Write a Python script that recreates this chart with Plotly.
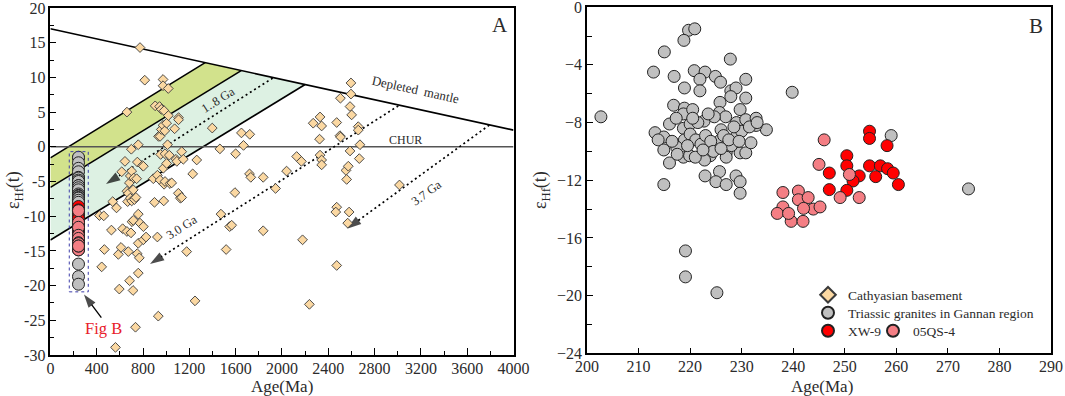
import math
import plotly.graph_objects as go

# ---------------- Panel A : Cathyasian basement zircons ----------------
CATH_AGE = [423, 461, 443, 466, 527, 538, 571, 587, 562, 595, 610, 616, 624,
            644, 661, 661, 661, 667, 673, 673, 682, 684, 690, 690, 696, 699, 702, 702,
            705, 714, 716, 716, 720, 726, 735, 739, 745, 750, 751, 759, 759, 759, 759,
            768, 774, 774, 795, 803, 803, 803, 815, 826,
            889, 899, 905, 924, 924, 932, 934, 943, 947, 947, 952, 958, 958, 973, 973,
            973, 975, 979, 982, 982, 988, 990, 990, 1004, 1004, 1012, 1018, 1019, 1027,
            1033, 1048, 1073, 1085, 1092, 1105, 1107, 1107, 1122, 1134, 1134, 1148,
            1177, 1229, 1249, 1264, 1398, 1464, 1473, 1518, 1548, 1566, 1594, 1600,
            1650, 1668, 1722, 1720, 1731, 1838, 1838, 1945,
            2040, 2127, 2168, 2178, 2237, 2270, 2329, 2343, 2325, 2329, 2343, 2343,
            2473, 2473, 2465, 2473, 2505, 2501, 2506, 2553, 2559, 2573, 2580, 2568,
            2588, 2588, 2596, 2596, 2602, 2659, 2659, 2668, 2674, 3015]
CATH_EPS = [-9.9, -9.95, -17.3, -14.8, -12.0, -7.9, -8.8, -15.5, -28.9, -20.5, -14.5, -3.6, -11.8,
            -2.1, 5.0, -12.2, -6.4, -7.9, -15.1, -6.7, -5.2, -19.3, -7.4, -4.2, -12.4, -0.35, -3.5, -7.8,
            -10.8, -20.7, -6.2, -10.6, -4.5, -7.6, -26.0, -7.3, -4.6, -15.4, -2.2, 0.3, -9.7, -13.9, -18.2,
            -16.0, 14.3, -11.0, -2.7, -2.8, -11.5, -13.4, 9.6, -13.0,
            -4.6, -8.0, 5.9, -4.1, -13.0, -24.4, 1.5, 5.8, 1.5, -4.8, -1.1, 5.4, 2.5, 9.7, 8.8,
            3.1, -3.1, -7.8, 5.2, -5.4, 2.3, -1.0, -5.0, 3.4, -2.4, 0.3, 8.4, 4.5, -1.2,
            -5.3, -5.2, 2.6, -1.8, -2.1, -6.7, 4.2, 3.9, -7.4, -0.7, -7.3, -1.8,
            -15.1, -3.9, -22.2, -1.9, 2.7, -0.3, -9.7, -14.8, -11.5, -11.3, -6.6, -1.0,
            2.0, 0.2, 1.8, -3.9, -4.4, -4.4, -12.1, -6.0,
            -3.5, -1.4, -2.1, -13.4, -22.7, 3.4, 4.3, 3.0, 1.1, -1.2, -1.9, -2.6,
            3.5, -8.7, -9.4, -17.1, 7.0, 1.6, 1.4, -3.4, -4.7, -2.8, -9.4, -11.0,
            5.8, -0.6, 9.2, 7.6, 4.6, 2.9, 2.4, -1.7, 0.3, -5.5]

# ---------------- Panel B : Triassic granites ----------------
GRAY_AGE = [202.7, 219.7, 220.9, 218.8, 215.0, 227.8,
            212.9, 216.9, 220.8, 222.9, 221.9, 224.9, 225.9, 230.8,
            218.9, 221.9, 227.9, 228.9, 230.8, 239.8, 225.8, 227.9,
            216.8, 218.9, 218.7, 220.5, 229.7, 225.7, 226.9, 229.0, 230.8, 232.8, 234.8, 232.8,
            216.0, 217.3, 218.7, 220.0, 222.7, 224.7,
            213.2, 214.9, 213.8, 214.9, 216.0, 214.9,
            218.9, 220.0, 217.4, 218.7, 219.9, 221.1, 222.1, 223.9, 222.8, 225.9, 226.0, 227.0,
            227.0, 228.9, 229.7, 230.8, 231.8,
            222.9, 225.7, 225.0, 227.0, 228.9, 229.7, 229.7,
            221.5, 223.0, 224.0, 226.5, 228.0, 230.0, 231.5, 219.5, 221.0, 224.5, 227.5,
            229.5, 223.5, 228.5, 216.5, 220.5, 233.0, 217.5, 222.5, 226.0,
            219.1, 219.1, 225.2, 259.0, 274.0]
GRAY_EPS = [-7.6, -1.6, -1.5, -2.3, -3.1, -3.6,
            -4.5, -4.8, -4.4, -4.5, -5.0, -4.8, -5.2, -5.0,
            -5.6, -5.8, -5.8, -5.6, -6.3, -5.9, -6.6, -6.2,
            -6.8, -7.0, -7.4, -7.1, -7.1, -7.3, -7.6, -8.0, -7.8, -7.7, -8.5, -8.2,
            -8.1, -7.7, -8.4, -8.1, -7.9, -7.6,
            -8.7, -9.0, -9.2, -9.9, -10.8, -12.3,
            -9.2, -8.8, -9.7, -10.4, -10.3, -9.2, -9.5, -10.3, -10.6, -9.2, -8.5, -10.1,
            -10.4, -9.0, -10.1, -10.1, -9.4,
            -11.7, -11.4, -12.1, -12.3, -11.7, -12.1, -12.9,
            -8.0, -8.9, -9.3, -8.9, -9.6, -8.6, -8.3, -9.6, -10.4, -10.0, -9.2,
            -9.3, -7.4, -8.3, -9.3, -7.7, -8.0, -10.2, -9.9, -9.8,
            -16.9, -18.7, -19.8, -8.9, -12.6]

XW9_AGE = [254.8, 254.8, 258.2, 250.4, 250.4, 247.0, 254.8, 256.9, 258.3, 259.4,
           260.4, 256.0, 252.8, 251.6, 247.0, 250.4]
XW9_EPS = [-8.6, -9.1, -9.6, -10.3, -11.0, -11.5, -11.0, -11.0, -11.2, -11.5,
           -12.3, -11.75, -11.7, -12.05, -12.65, -12.7]

QS4_AGE = [246.0, 245.0, 250.9, 249.1, 252.8, 238.0, 241.0, 241.0, 242.9, 238.0,
           243.9, 245.2, 242.0, 239.6, 241.9, 236.9, 239.1]
QS4_EPS = [-9.2, -10.9, -11.6, -13.2, -13.2, -12.85, -12.75, -13.35, -13.2, -13.85,
           -14.0, -13.85, -13.95, -14.85, -14.85, -14.3, -14.3]

# ---------------- Reference evolution lines (panel A) ----------------
DM_AGE, DM_EPS = [0, 4000], [17.0, 2.4]
CHUR_AGE, CHUR_EPS = [0, 4000], [0, 0]
L1_AGE, L1_EPS = [0, 1337], [-1.6, 12.12]
L2_AGE, L2_EPS = [0, 1648], [-5.85, 10.985]
L3_AGE, L3_EPS = [0, 2200], [-13.43, 8.97]
ARR18_AGE, ARR18_EPS = [1920, 480], [9.9, -5.37]
ARR30_AGE, ARR30_EPS = [3005, 860], [5.9, -16.9]
ARR37_AGE, ARR37_EPS = [3791, 2562], [3.13, -11.8]
FIGB_AGE, FIGB_EPS = [440, 290], [-24.6, -21.3]

A_XTICKS = list(range(0, 4001, 400))
A_YTICKS = list(range(-30, 21, 5))
B_XTICKS = list(range(200, 291, 10))
B_YTICKS = list(range(-24, 1, 4))

W, H = 1065, 396
AX_L, AX_R, AX_T, AX_B = 50.4, 513.5, 8.0, 355.0
BX_L, BX_R, BX_T, BX_B = 587.0, 1051.0, 7.2, 353.3

FONT = "Liberation Serif"
TXT = "#2b2b2b"

# in panel A the granite data collapse to one column near their mean age
ALL_B_AGE = GRAY_AGE + XW9_AGE + QS4_AGE
COLUMN_AGE = sum(ALL_B_AGE) / len(ALL_B_AGE) + 12


def ang(xs, ys):
    """text angle (deg) following a line in panel A pixel space"""
    px = (AX_R - AX_L) / 4000.0
    py = (AX_B - AX_T) / 50.0
    dx = (xs[1] - xs[0]) * px
    dy = (ys[1] - ys[0]) * py
    if dx < 0:
        dx, dy = -dx, -dy
    return -math.degrees(math.atan2(dy, dx))


fig = go.Figure()

# bands
fig.add_trace(go.Scatter(x=L1_AGE + L2_AGE[::-1], y=L1_EPS + L2_EPS[::-1], fill="toself",
                         fillcolor="#D2E28C", line=dict(width=0), mode="lines",
                         showlegend=False, hoverinfo="skip", xaxis="x", yaxis="y"))
fig.add_trace(go.Scatter(x=L2_AGE + L3_AGE[::-1], y=L2_EPS + L3_EPS[::-1], fill="toself",
                         fillcolor="#DDF1E3", line=dict(width=0), mode="lines",
                         showlegend=False, hoverinfo="skip", xaxis="x", yaxis="y"))
for xs, ys in [(L1_AGE, L1_EPS), (L2_AGE, L2_EPS), (L3_AGE, L3_EPS), (DM_AGE, DM_EPS)]:
    fig.add_trace(go.Scatter(x=xs, y=ys, mode="lines", line=dict(color="black", width=1.6),
                             showlegend=False, hoverinfo="skip", xaxis="x", yaxis="y"))
fig.add_trace(go.Scatter(x=CHUR_AGE, y=CHUR_EPS, mode="lines", line=dict(color="#555555", width=1.5),
                         showlegend=False, hoverinfo="skip", xaxis="x", yaxis="y"))

# dotted arrows
for xs, ys in [(ARR18_AGE, ARR18_EPS), (ARR30_AGE, ARR30_EPS), (ARR37_AGE, ARR37_EPS)]:
    fig.add_trace(go.Scatter(x=xs, y=ys, mode="lines+markers",
                             line=dict(color="black", width=1.7, dash="2px,3px"),
                             marker=dict(symbol="arrow", size=[0, 15], angleref="previous",
                                         color="black", line=dict(width=0)),
                             showlegend=False, hoverinfo="skip", xaxis="x", yaxis="y"))

# diamonds
fig.add_trace(go.Scatter(x=CATH_AGE, y=CATH_EPS, mode="markers", name="Cathyasian basement",
                         marker=dict(symbol="diamond", size=7.5, color="#FBD8A2",
                                     line=dict(color="#3a3a3a", width=0.9)),
                         legend="legend", xaxis="x", yaxis="y"))

# circles of panel B inside panel A
for ys, c in [(GRAY_EPS, "#C0C0C0"), (XW9_EPS, "#FF0000"), (QS4_EPS, "#F47E84")]:
    fig.add_trace(go.Scatter(x=[COLUMN_AGE] * len(ys), y=ys, mode="markers",
                             marker=dict(size=12, color=c, line=dict(color="#222", width=1)),
                             showlegend=False, hoverinfo="skip", xaxis="x", yaxis="y"))

# Fig B arrow
fig.add_trace(go.Scatter(x=FIGB_AGE, y=FIGB_EPS, mode="lines+markers",
                         line=dict(color="black", width=1.3),
                         marker=dict(symbol="arrow", size=[0, 14], angleref="previous",
                                     color="black", line=dict(width=0)),
                         showlegend=False, hoverinfo="skip", xaxis="x", yaxis="y"))

# panel B
fig.add_trace(go.Scatter(x=GRAY_AGE, y=GRAY_EPS, mode="markers", name="Triassic granites in Gannan region",
                         marker=dict(size=12, color="#C0C0C0", line=dict(color="#222", width=1)),
                         legend="legend3", xaxis="x2", yaxis="y2"))
fig.add_trace(go.Scatter(x=XW9_AGE, y=XW9_EPS, mode="markers", name="XW-9",
                         marker=dict(size=12, color="#FF0000", line=dict(color="#222", width=1)),
                         legend="legend2", xaxis="x2", yaxis="y2"))
fig.add_trace(go.Scatter(x=QS4_AGE, y=QS4_EPS, mode="markers", name="05QS-4",
                         marker=dict(size=12, color="#F47E84", line=dict(color="#222", width=1)),
                         legend="legend4", xaxis="x2", yaxis="y2"))

# dotted box around the granite column
fig.add_shape(type="rect", xref="x", yref="y", x0=163, x1=327, y0=-20.9, y1=-0.7,
              line=dict(color="#3B3BA8", width=1, dash="dot"))

ann = []
def txt(x, y, s, size, angle=0, color=TXT, xref="x", yref="y"):
    ann.append(dict(x=x, y=y, xref=xref, yref=yref, text=s, showarrow=False, textangle=angle,
                    xanchor="center", yanchor="middle",
                    font=dict(family=FONT, size=size, color=color)))

txt(3152, 8.2, "Depleted  mantle", 13, ang(DM_AGE, DM_EPS))
txt(3063, 1.0, "CHUR", 12)
txt(1450, 6.7, "1..8 Ga", 12.5, ang(ARR18_AGE, ARR18_EPS))
txt(1140, -11.6, "3.0 Ga", 12.5, ang(ARR30_AGE, ARR30_EPS))
txt(3250, -6.7, "3.7 Ga", 12.5, ang(ARR37_AGE, ARR37_EPS))
txt(457, -26.2, "Fig B", 16.5, 0, "#E8202A")
txt(3881, 17.6, "A", 21)
txt(287.1, -1.3, "B", 21, 0, TXT, "x2", "y2")
# axis titles
txt(14 / W, 1 - 190 / H, "ε<sub>Hf</sub>(t)", 18, -90, TXT, "paper", "paper")
txt(541 / W, 1 - 190 / H, "ε<sub>Hf</sub>(t)", 18, -90, TXT, "paper", "paper")
txt((AX_L + AX_R) / 2 / W, 1 - 386.5 / H, "Age(Ma)", 17, 0, TXT, "paper", "paper")
txt(822 / W, 1 - 386.5 / H, "Age(Ma)", 17, 0, TXT, "paper", "paper")

axis_common = dict(showline=True, mirror=True, linecolor="black", linewidth=1.5, showgrid=False,
                   zeroline=False, ticks="inside", tickcolor="black", tickwidth=1.2,
                   tickfont=dict(family=FONT, size=16, color=TXT), tickangle=0, automargin=False)

legend_common = dict(xanchor="left", yanchor="middle", bgcolor="rgba(0,0,0,0)",
                     font=dict(family=FONT, size=13.5, color=TXT), itemsizing="constant",
                     borderwidth=0)

fig.update_layout(
    template="none",
    width=W, height=H, margin=dict(l=0, r=0, t=0, b=0, pad=0), autosize=False,
    paper_bgcolor="white", plot_bgcolor="white",
    xaxis=dict(domain=[AX_L / W, AX_R / W], range=[0, 4000], tickvals=A_XTICKS, ticklen=7,
               ticklabelstandoff=-2,
               minor=dict(dtick=200, ticks="inside", ticklen=4, tickcolor="black"),
               anchor="y", **axis_common),
    yaxis=dict(domain=[1 - AX_B / H, 1 - AX_T / H], range=[-30, 20], tickvals=A_YTICKS,
               ticktext=[str(v) for v in A_YTICKS], ticklen=6,
               minor=dict(dtick=2.5, ticks="inside", ticklen=4, tickcolor="black"),
               anchor="x", **axis_common),
    xaxis2=dict(domain=[BX_L / W, BX_R / W], range=[200, 290], tickvals=B_XTICKS, ticklen=6,
                ticklabelstandoff=-2,
                anchor="y2", **axis_common),
    yaxis2=dict(domain=[1 - BX_B / H, 1 - BX_T / H], range=[-24, 0], tickvals=B_YTICKS, ticklen=6,
                minor=dict(dtick=2, ticks="inside", ticklen=5, tickcolor="black"),
                anchor="x2", **axis_common),
    legend=dict(x=808 / W, y=1 - 295 / H, **legend_common),
    legend3=dict(x=808 / W, y=1 - 313 / H, **legend_common),
    legend2=dict(x=808 / W, y=1 - 331 / H, **legend_common),
    legend4=dict(x=873 / W, y=1 - 331 / H, **legend_common),
    annotations=ann,
)

fig.write_html("out.html", config={"displayModeBar": False},
               post_script="document.body.style.margin='0px';document.body.style.overflow='hidden';")
